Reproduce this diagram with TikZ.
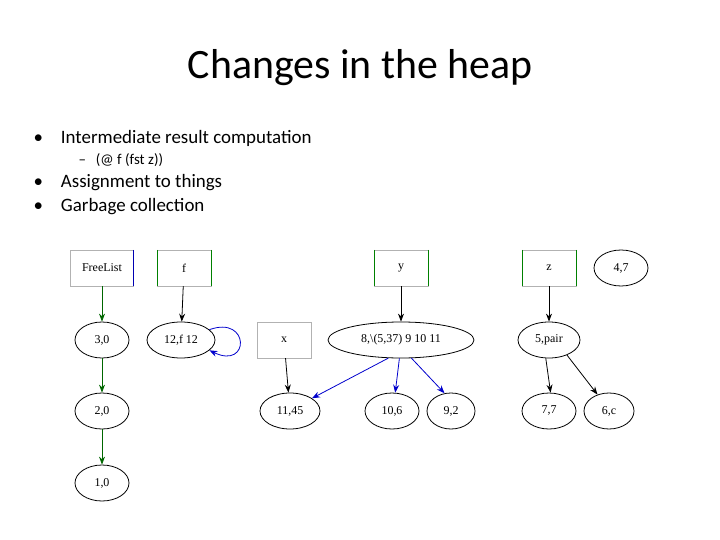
\documentclass[tikz,border=0pt]{standalone}
\usepackage{fontspec}
\setmainfont{Carlito}
\newfontfamily\graphfont{Liberation Serif}
\usetikzlibrary{arrows.meta}
\tikzset{
  var/.style={draw=gray!60, minimum width=54bp, minimum height=36bp, font=\graphfont\fontsize{12}{14}\selectfont},
  cell/.style={draw, thick, ellipse, minimum height=36bp, inner sep=1bp, font=\graphfont\fontsize{12}{14}\selectfont},
  ptr/.style={thick, -{Stealth[length=8bp,width=6bp]}},
  free/.style={ptr, draw=green!40!black},
  mut/.style={ptr, draw=blue!80!black}
}
\usetikzlibrary{shapes.geometric}
\begin{document}
\begin{tikzpicture}[x=1bp,y=-1bp]
    \useasboundingbox (0,0) rectangle (720,540);
    \node[font=\fontsize{42}{48}\selectfont] (title) at (360,68) {Changes in the heap};
    % bullet list
    \node[anchor=west,font=\fontsize{19}{22}\selectfont] (b1) at (30,138) {\textbullet\hspace{18bp}Intermediate result computation};
    \node[anchor=west,font=\fontsize{15}{18}\selectfont] (b1a) at (75,160) {--\hspace{10bp}(@ f (fst z))};
    \node[anchor=west,font=\fontsize{19}{22}\selectfont] (b2) at (30,183) {\textbullet\hspace{18bp}Assignment to things};
    \node[anchor=west,font=\fontsize{19}{22}\selectfont] (b3) at (30,207) {\textbullet\hspace{18bp}Garbage collection};
    % roots
    \node[var, minimum width=63bp] (freelist) at (102,268) {FreeList};
    \draw[blue!70!black, thick] (freelist.north east) -- (freelist.south east);
    \node[var] (f) at (184,268) {f};
    \node[var] (x) at (284,340) {x};
    \node[var] (y) at (401,268) {y};
    \node[var] (z) at (549,268) {z};
    \foreach \v in {f,y,z}
      \draw[green!50!black] (\v.north west) -- (\v.south west) (\v.north east) -- (\v.south east);
    % heap cells
    \node[cell, minimum width=54bp] (c30) at (102,340) {3,0};
    \node[cell, minimum width=54bp] (c20) at (102,411) {2,0};
    \node[cell, minimum width=54bp] (c10) at (102,483) {1,0};
    \node[cell, minimum width=68bp] (c12) at (181,340) {12,f 12};
    \node[cell, minimum width=146bp] (c8) at (401,340) {8,\textbackslash(5,37) 9 10 11};
    \node[cell, minimum width=62bp] (c5) at (549,340) {5,pair};
    \node[cell, minimum width=54bp] (c47) at (621,268) {4,7};
    \node[cell, minimum width=60bp] (c11) at (290,411) {11,45};
    \node[cell, minimum width=54bp] (c10b) at (392,411) {10,6};
    \node[cell, minimum width=48bp] (c9) at (451,411) {9,2};
    \node[cell, minimum width=54bp] (c7) at (549,411) {7,7};
    \node[cell, minimum width=50bp] (c6) at (609,411) {6,c};
    % pointers
    \draw[free] (freelist) -- (c30);
    \draw[free] (c30) -- (c20);
    \draw[free] (c20) -- (c10);
    \draw[ptr] (f) -- (c12);
    \draw[mut] (c12.20) .. controls (250,315) and (250,370) .. (c12.-20);
    \draw[ptr] (y) -- (c8);
    \draw[ptr] (x) -- (c11);
    \draw[mut] (c8.235) -- (c11.30);
    \draw[mut] (c8.265) -- (c10b.80);
    \draw[mut] (c8.300) -- (c9.110);
    \draw[ptr] (z) -- (c5);
    \draw[ptr] (c5.260) -- (c7.85);
    \draw[ptr] (c5.320) -- (c6.125);
\end{tikzpicture}
\end{document}
